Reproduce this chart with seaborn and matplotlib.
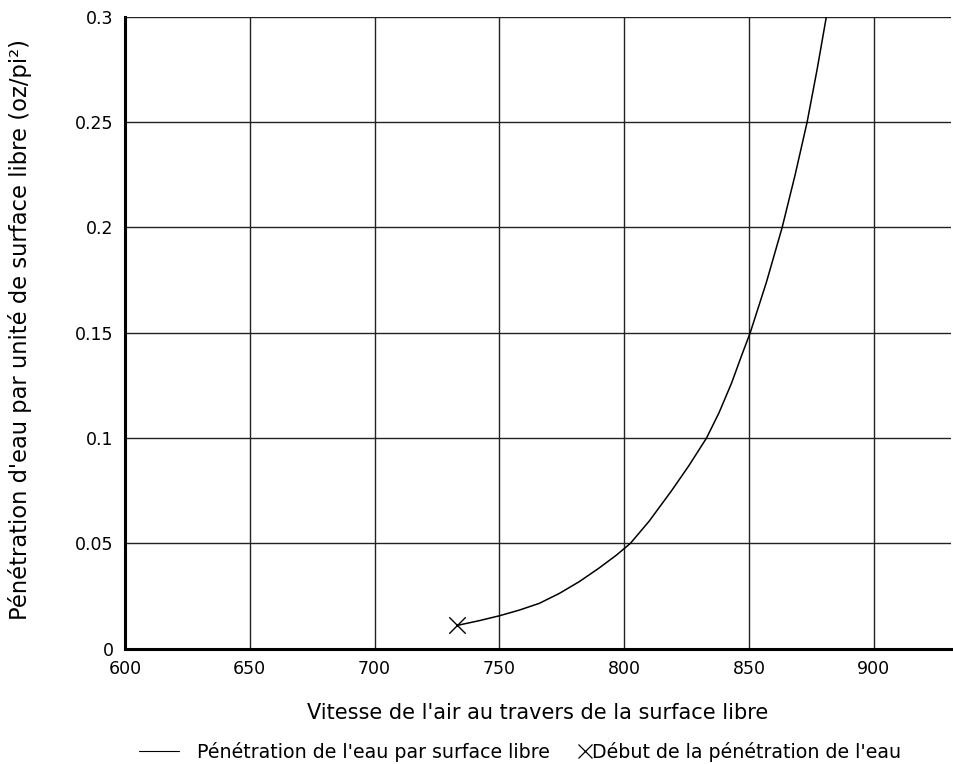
import matplotlib
matplotlib.use("Agg")
import matplotlib.pyplot as plt
import seaborn as sns
import pandas as pd
from matplotlib.lines import Line2D
from matplotlib.legend_handler import HandlerBase

# Data
vitesse = [733, 742, 750, 758, 766, 774, 782, 790, 797, 802.5, 810, 819, 826, 833, 838, 843, 847,
           850.5, 857, 863.3, 868.5, 873.3, 877.3, 881]
penetration = [0.011, 0.0133, 0.0156, 0.0183, 0.0215, 0.0262, 0.0318, 0.0383, 0.0445, 0.050, 0.0605,
               0.075, 0.087, 0.100, 0.112, 0.126, 0.139, 0.150, 0.174, 0.200, 0.225, 0.250, 0.275, 0.300]
debut_x = [733]
debut_y = [0.011]
x_ticks = [600, 650, 700, 750, 800, 850, 900]
y_ticks = [0, 0.05, 0.1, 0.15, 0.2, 0.25, 0.3]
y_tick_labels = ["0", "0.05", "0.1", "0.15", "0.2", "0.25", "0.3"]

sns.set_theme(style="white")
plt.rcParams['font.family'] = ['DejaVu Sans']
plt.rcParams['text.color'] = 'black'

fig = plt.figure(figsize=(9.54, 7.64), dpi=100)
ax = fig.add_axes([0.131, 0.151, 0.866, 0.827])

df = pd.DataFrame({"x": vitesse, "y": penetration})
sns.lineplot(data=df, x="x", y="y", ax=ax, color="black", linewidth=1.1, sort=False, zorder=3)
sns.scatterplot(x=debut_x, y=debut_y, ax=ax, marker="x", s=140, color="black", linewidth=1.0, zorder=4)

ax.set_xlim(600, 931)
ax.set_ylim(0, 0.3)
ax.set_xticks(x_ticks)
ax.set_xticklabels([str(v) for v in x_ticks])
ax.set_yticks(y_ticks)
ax.set_yticklabels(y_tick_labels)
ax.set_yticks([0.3], minor=True)
ax.set_xticks([931], minor=True)
ax.grid(True, which="major", color="#222222", linewidth=1.0)
ax.set_axisbelow(True)

for s in ["top", "right"]:
    ax.spines[s].set_visible(False)
for s in ["left", "bottom"]:
    ax.spines[s].set_color("black")
    ax.spines[s].set_linewidth(2.2)

ax.tick_params(axis="both", which="major", labelsize=12.5, colors="black", length=0, pad=8)
ax.tick_params(axis="both", which="minor", length=4, width=2, color="black")

ax.set_xlabel("Vitesse de l'air au travers de la surface libre", fontsize=15, labelpad=18, color="black")
ax.set_ylabel("Pénétration d'eau par unité de surface libre (oz/pi²)", fontsize=16.3, labelpad=29, color="black")
ax.yaxis.set_label_coords(-0.112, 0.505)


class XHandler(HandlerBase):
    def create_artists(self, legend, orig_handle, xdescent, ydescent, width, height, fontsize, trans):
        x = width + 0.9 * fontsize - 5.5
        ln = Line2D([x], [height / 2.0 - ydescent], marker="x", linestyle="None",
                    color="black", markersize=10.5, markeredgewidth=0.9)
        ln.set_transform(trans)
        return [ln]


line_h = Line2D([], [], color="black", linewidth=0.8)
mark_h = Line2D([], [], color="black", marker="x", linestyle="None")
labels = ["Pénétration de l'eau par surface libre", "Début de la pénétration de l'eau"]
fig.legend([line_h, mark_h], labels, loc="center", bbox_to_anchor=(0.545, 0.016), ncol=2, frameon=False,
           fontsize=13.7, handlelength=2.15, handletextpad=0.9, columnspacing=-0.8,
           labelcolor="black", handler_map={mark_h: XHandler()})

fig.savefig("out.png", dpi=100)
